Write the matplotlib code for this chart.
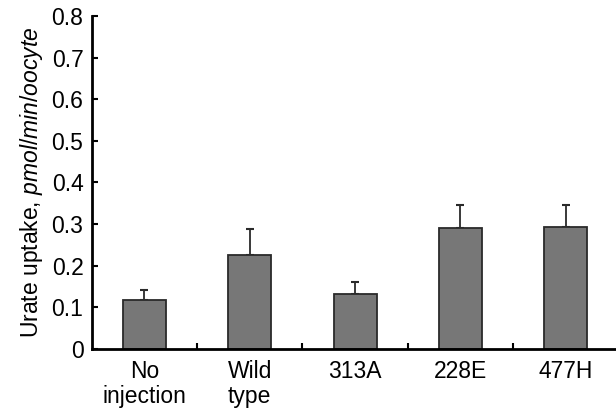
import numpy as np
import matplotlib
matplotlib.use("Agg")
import matplotlib.pyplot as plt

# Data
categories = ["No\ninjection", "Wild\ntype", "313A", "228E", "477H"]
uptake = [0.117, 0.225, 0.133, 0.290, 0.292]
sem = [0.025, 0.064, 0.029, 0.055, 0.053]

plt.rcParams['font.family'] = ['Liberation Sans', 'DejaVu Sans']
plt.rcParams['mathtext.fontset'] = 'custom'
plt.rcParams['mathtext.rm'] = 'Liberation Sans'
plt.rcParams['mathtext.it'] = 'Liberation Sans:italic'

fig = plt.figure(figsize=(6.16, 4.11), dpi=100)
ax = fig.add_axes([0.149, 0.151, 0.855, 0.810])

x = np.arange(len(categories))
ax.bar(x, uptake, width=0.41, color='#777777', edgecolor='#2a2a2a', linewidth=1.3, zorder=2)
ax.errorbar(x, uptake, yerr=[np.zeros(len(sem)), sem], fmt='none', ecolor='#2a2a2a',
            elinewidth=1.3, capsize=3, capthick=1.5, zorder=1)

ax.set_xlim(-0.5, 4.5)
ax.set_ylim(0, 0.8)
ax.set_yticks(np.arange(0, 0.81, 0.1))
ax.set_yticklabels(["0"] + [f"{v:.1f}" for v in np.arange(0.1, 0.81, 0.1)])
ax.set_xticks(x)
ax.set_xticklabels(categories, linespacing=1.1)
ax.set_xticks(np.arange(0.5, 4.0, 1.0), minor=True)

ax.tick_params(axis='y', direction='in', length=4, width=1.5, labelsize=16.5, pad=6)
ax.tick_params(axis='x', which='major', length=0, labelsize=16.5, pad=8)
ax.tick_params(axis='x', which='minor', direction='in', length=4, width=1.5)

for s in ['top', 'right']:
    ax.spines[s].set_visible(False)
for s in ['left', 'bottom']:
    ax.spines[s].set_linewidth(2)

ax.set_ylabel("Urate uptake, $\\mathit{pmol/min/oocyte}$", fontsize=16.5, labelpad=5)

fig.savefig("out.png", dpi=100)
